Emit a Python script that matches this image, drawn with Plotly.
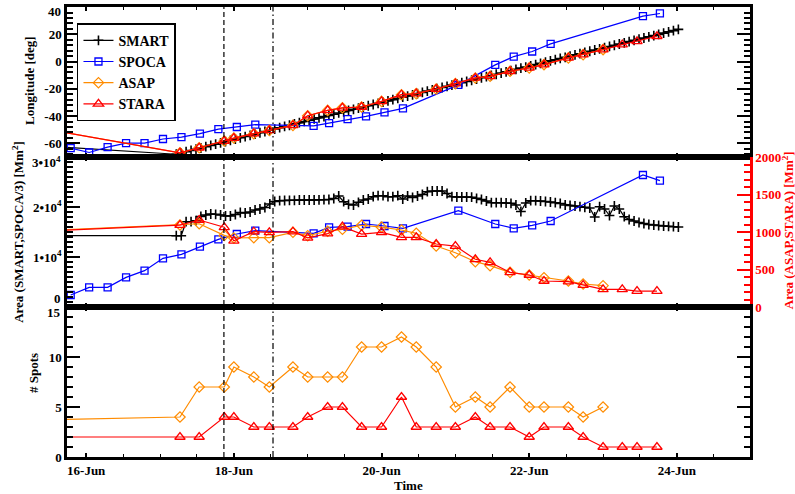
import plotly.graph_objects as go

# ---------------- data (time in days of June) ----------------
smart_t = [15.60,
    17.220, 17.287, 17.353, 17.420, 17.487, 17.553, 17.620, 17.687, 17.753, 17.820,
    17.887, 17.953, 18.020, 18.087, 18.153, 18.220, 18.287, 18.353, 18.420, 18.487,
    18.553, 18.620, 18.687, 18.753, 18.820, 18.887, 18.953, 19.020, 19.087, 19.153,
    19.220, 19.287, 19.353, 19.420, 19.487, 19.553, 19.620, 19.687, 19.753, 19.820,
    19.887, 19.953, 20.020, 20.087, 20.153, 20.220, 20.287, 20.353, 20.420, 20.487,
    20.553, 20.620, 20.687, 20.753, 20.820, 20.887, 20.953, 21.020, 21.087, 21.153,
    21.220, 21.287, 21.353, 21.420, 21.487, 21.553, 21.620, 21.687, 21.753, 21.820,
    21.887, 21.953, 22.020, 22.087, 22.153, 22.220, 22.287, 22.353, 22.420, 22.487,
    22.553, 22.620, 22.687, 22.753, 22.820, 22.887, 22.953, 23.020, 23.087, 23.153,
    23.220, 23.287, 23.353, 23.420, 23.487, 23.553, 23.620, 23.687, 23.753, 23.820,
    23.887, 23.953, 24.020]
smart_lon = [-62.4,
    -68.0, -67.1, -66.1, -65.2, -64.3, -63.4, -62.4, -61.5, -60.6, -59.7,
    -58.7, -57.8, -56.9, -55.9, -55.0, -54.1, -53.2, -52.2, -51.3, -50.4,
    -49.5, -48.5, -47.6, -46.7, -45.7, -44.8, -43.9, -43.0, -42.1, -41.2,
    -40.4, -39.5, -38.6, -37.7, -36.8, -35.9, -35.0, -34.1, -33.3, -32.4,
    -31.5, -30.6, -29.7, -28.8, -27.9, -27.0, -26.1, -25.3, -24.4, -23.5,
    -22.6, -21.7, -20.8, -19.9, -19.0, -18.2, -17.3, -16.4, -15.5, -14.6,
    -13.7, -12.8, -11.9, -11.1, -10.2, -9.3, -8.4, -7.5, -6.6, -5.7,
    -4.8, -4.0, -3.1, -2.2, -1.3, -0.4, 0.5, 1.4, 2.3, 3.1,
    4.0, 4.9, 5.8, 6.7, 7.6, 8.5, 9.4, 10.2, 11.1, 12.0,
    12.9, 13.8, 14.7, 15.6, 16.5, 17.3, 18.2, 19.1, 20.0, 20.9,
    21.8, 22.7, 23.6]
smart_area = [14260,
    14260, 14260, 17060, 17060, 17260, 18100, 18400, 18600, 18540, 18400,
    18200, 18200, 18500, 18900, 18800, 19000, 19400, 19600, 19900, 20600,
    21100, 21260, 21300, 21340, 21340, 21400, 21400, 21400, 21400, 21440,
    21460, 21500, 21700, 22200, 21060, 20540, 20400, 20940, 21400, 21600,
    22060, 22260, 22260, 22060, 22060, 22260, 21600, 22200, 21900, 22200,
    22500, 23060, 23200, 23200, 23200, 22700, 22060, 22000, 22000, 22000,
    21960, 21740, 21500, 21200, 20860, 20860, 20860, 20800, 20740, 20400,
    19100, 20800, 21260, 21260, 21200, 21100, 21000, 20860, 20700, 20400,
    20300, 20200, 20060, 19940, 19800, 18000, 20060, 19600, 18300, 20200,
    19600, 18060, 17500, 17200, 16900, 16700, 16500, 16400, 16300, 16200,
    16140, 16060, 16000]

spoca_t = [15.79, 16.04, 16.29, 16.54, 16.79, 17.04, 17.29, 17.54, 17.79, 18.04,
           18.29, 19.08, 19.29, 19.54, 19.79, 20.04, 20.29, 21.04, 21.54, 21.79,
           22.04, 22.29, 23.54, 23.77]
spoca_lon = [-63.5, -66.7, -62.7, -59.8, -59.8, -56.8, -55.4, -52.9, -49.5, -48.0,
             -46.3, -47.1, -45.1, -42.2, -40.2, -37.3, -34.3, -17.1, -2.4, 3.7,
             7.4, 13.0, 33.3, 35.3]
spoca_area = [2400, 3930, 3930, 5930, 7270, 9730, 10530, 12070, 13530, 14600,
              15270, 14730, 15930, 16070, 16600, 16200, 15730, 19270, 16600, 15730,
              16330, 17200, 26400, 25270]

asap_t = [11.0, 17.27, 17.53, 17.87, 18.00, 18.27, 18.48, 18.80, 19.00, 19.27, 19.47,
          19.73, 20.00, 20.27, 20.47, 20.74, 21.00, 21.27, 21.47, 21.74, 22.00,
          22.20, 22.53, 22.73, 23.00]
asap_lon = [-7.0, -66.9, -63.2, -58.3, -56.1, -52.9, -50.5, -46.8, -39.7, -35.8, -33.9,
            -33.3, -29.2, -24.3, -23.5, -20.1, -16.2, -12.0, -10.8, -7.1, -4.6,
            -2.2, 2.7, 5.1, 8.8]
asap_area = [820, 1093, 1110, 955, 920, 924, 924, 996, 951, 1010, 1036,
             1090, 1065, 1027, 982, 813, 724, 604, 551, 462, 427,
             391, 347, 307, 284]
asap_spots = [3, 4, 7, 7, 9, 8, 7, 9, 8, 8, 8, 11, 11, 12, 11, 9, 5, 6, 5, 7, 5, 5, 5, 4, 5]

stara_t = [11.0, 17.27, 17.53, 17.87, 18.00, 18.27, 18.48, 18.80, 19.00, 19.27, 19.47,
           19.73, 20.00, 20.27, 20.47, 20.74, 21.00, 21.27, 21.47, 21.74, 22.00,
           22.20, 22.53, 22.73, 23.00, 23.26, 23.46, 23.73]
stara_lon = [-7.0, -66.9, -63.2, -58.3, -56.1, -52.9, -50.5, -46.8, -39.7, -35.8, -33.9,
             -33.3, -29.2, -24.3, -23.5, -20.1, -16.2, -12.0, -10.8, -7.1, -4.6,
             -2.2, 2.7, 5.1, 8.8, 12.5, 14.9, 18.6]
stara_area = [820, 1093, 1160, 1063, 882, 1004, 996, 1004, 922, 978, 1071,
              973, 996, 929, 929, 840, 813, 636, 596, 462, 427,
              347, 338, 293, 236, 236, 213, 213]
stara_spots = [2, 2, 2, 4, 4, 3, 3, 3, 4, 5, 5, 3, 3, 6, 3, 3, 3, 4, 3, 3, 2, 3, 3, 2, 1, 1, 1, 1]

event_days = [17.865, 18.53]
xtick_vals = [16, 18, 20, 22, 24]
xtick_text = ["16-Jun", "18-Jun", "20-Jun", "22-Jun", "24-Jun"]
lon_tick_vals = [-60, -40, -20, 0, 20, 40]
lon_tick_text = ["-60", "-40", "-20", "0", "20", ""]
area_tick_vals = [10000, 20000]
area_tick_text = ["1•10<sup>4</sup>", "2•10<sup>4</sup>"]

# ---------------- styling ----------------
FONT = "Liberation Serif"
BLACK, BLUE, ORANGE, RED = "#000000", "#0000FF", "#FF8C00", "#FF0000"
XR = [15.74, 24.99]

def smart_style():
    return dict(mode="lines+markers", line=dict(color=BLACK, width=1.2),
                marker=dict(symbol="cross-thin", size=7, line=dict(color=BLACK, width=1.6)))

def spoca_style():
    return dict(mode="lines+markers", line=dict(color=BLUE, width=1.2),
                marker=dict(symbol="square-open", size=7, color=BLUE, line=dict(width=1.3)))

def asap_style():
    return dict(mode="lines+markers", line=dict(color=ORANGE, width=1.2),
                marker=dict(symbol="diamond-open", size=8, color=ORANGE, line=dict(width=1.2)))

def stara_style():
    return dict(mode="lines+markers", line=dict(color=RED, width=1.2),
                marker=dict(symbol="triangle-up-open", size=9, color=RED, line=dict(width=1.3)))

fig = go.Figure()

# top panel: longitude
fig.add_trace(go.Scatter(x=smart_t, y=smart_lon, name="SMART", xaxis="x", yaxis="y",
                         legendgroup="smart", **smart_style()))
fig.add_trace(go.Scatter(x=spoca_t, y=spoca_lon, name="SPOCA", xaxis="x", yaxis="y",
                         legendgroup="spoca", **spoca_style()))
fig.add_trace(go.Scatter(x=asap_t, y=asap_lon, name="ASAP", xaxis="x", yaxis="y",
                         legendgroup="asap", **asap_style()))
fig.add_trace(go.Scatter(x=stara_t, y=stara_lon, name="STARA", xaxis="x", yaxis="y",
                         legendgroup="stara", **stara_style()))

# middle panel: areas
fig.add_trace(go.Scatter(x=smart_t, y=smart_area, name="SMART", xaxis="x2", yaxis="y2",
                         legendgroup="smart", showlegend=False, **smart_style()))
fig.add_trace(go.Scatter(x=spoca_t, y=spoca_area, name="SPOCA", xaxis="x2", yaxis="y2",
                         legendgroup="spoca", showlegend=False, **spoca_style()))
fig.add_trace(go.Scatter(x=asap_t, y=asap_area, name="ASAP", xaxis="x2", yaxis="y4",
                         legendgroup="asap", showlegend=False, **asap_style()))
fig.add_trace(go.Scatter(x=stara_t, y=stara_area, name="STARA", xaxis="x2", yaxis="y4",
                         legendgroup="stara", showlegend=False, **stara_style()))

# bottom panel: number of spots
fig.add_trace(go.Scatter(x=asap_t, y=asap_spots, name="ASAP", xaxis="x3", yaxis="y3",
                         legendgroup="asap", showlegend=False, **asap_style()))
fig.add_trace(go.Scatter(x=stara_t, y=stara_spots, name="STARA", xaxis="x3", yaxis="y3",
                         legendgroup="stara", showlegend=False, **stara_style()))

tickfont = dict(family=FONT, size=13, color=BLACK, weight="bold")

def xax(anchor, labels):
    return dict(anchor=anchor, range=XR, showline=True, linewidth=2.5, linecolor=BLACK,
                mirror="ticks", ticks="inside", ticklen=4, tickwidth=1.5, tickcolor=BLACK,
                tickvals=xtick_vals, ticktext=xtick_text, showticklabels=labels,
                tickfont=tickfont, showgrid=False, zeroline=False, automargin=False,
                minor=dict(ticks="inside", ticklen=3, tickwidth=1.2, dtick=0.5, tick0=16,
                           tickcolor=BLACK, showgrid=False))

def yax(domain, rng, dtick, mdtick, mirror="ticks", color=BLACK, **kw):
    d = dict(domain=domain, range=rng, showline=True, linewidth=2.5, linecolor=color,
             mirror=mirror, ticks="inside", ticklen=13, tickwidth=2.2, tickcolor=color,
             dtick=dtick, tickfont=dict(family=FONT, size=13, color=color, weight="bold"),
             showgrid=False, zeroline=False, automargin=False,
             minor=dict(ticks="inside", ticklen=6, tickwidth=1.8, dtick=mdtick,
                        tickcolor=color, showgrid=False))
    d.update(kw)
    return d

fig.update_layout(
    width=795, height=494,
    margin=dict(l=67, r=45, t=7, b=37, autoexpand=False),
    paper_bgcolor="white", plot_bgcolor="white",
    font=dict(family=FONT, color=BLACK),
    xaxis=xax("y", False),
    xaxis2=xax("y2", False),
    xaxis3=xax("y3", True),
    yaxis=yax([2/3, 1], [-70, 40.05], 20, 4, tickvals=lon_tick_vals, ticktext=lon_tick_text),
    yaxis2=yax([1/3, 2/3], [0, 30000], 10000, 1000, mirror=False,
               tickvals=area_tick_vals, ticktext=area_tick_text),
    yaxis3=yax([0, 1/3], [0, 15], 5, 1, tickvals=[0, 5, 10]),
    yaxis4=yax([1/3, 2/3], [0, 2000], 500, 100, mirror=False, color=RED,
               overlaying="y2", side="right", anchor="x2"),
    legend=dict(x=0.0146, y=0.964, xanchor="left", yanchor="top",
                bgcolor="white", bordercolor=BLACK, borderwidth=1.5,
                font=dict(family=FONT, size=14, color=BLACK, weight="bold"),
                tracegroupgap=0, itemwidth=30),
    showlegend=True,
)

# major tick mark at the top of the area axis (its label is drawn separately below)
fig.add_shape(type="line", xref="paper", yref="y2", x0=0, x1=13 / 683, y0=30000, y1=30000,
              line=dict(color=BLACK, width=2.2))

for d, dash in zip(event_days, ["5px,3px", "6px,3px,1.5px,3px"]):
    fig.add_shape(type="line", xref="x", yref="paper", x0=d, x1=d, y0=0, y1=1,
                  line=dict(color=BLACK, width=1.2, dash=dash))

ann_font = dict(family=FONT, size=13, color=BLACK, weight="bold")

def ann(text, x, y, angle=0, font=ann_font, xanchor="center"):
    fig.add_annotation(text=text, xref="paper", yref="paper", x=x, y=y, textangle=angle,
                       showarrow=False, font=font, xanchor=xanchor, yanchor="middle")

ann("Longitude [deg]", -0.054, 0.836, -90)
ann("Area (SMART,SPOCA/3) [Mm<sup>2</sup>]", -0.072, 0.5, -90)
ann("# Spots", -0.048, 0.187, -90)
ann("Area (ASAP,STARA) [Mm<sup>2</sup>]", 1.0556, 0.504, -90,
    font=dict(family=FONT, size=13, color=RED, weight="bold"))
ann("Time", 0.5, -0.064)
ann("40", -0.006, 0.9889, xanchor="right")
ann("3•10<sup>4</sup>", -0.006, 0.6555, xanchor="right")
ann("0", -0.006, 0.353, xanchor="right")
ann("15", -0.006, 0.322, xanchor="right")

fig.write_html("out.html", config={"displayModeBar": False},
               post_script="document.body.style.margin='0px';")
